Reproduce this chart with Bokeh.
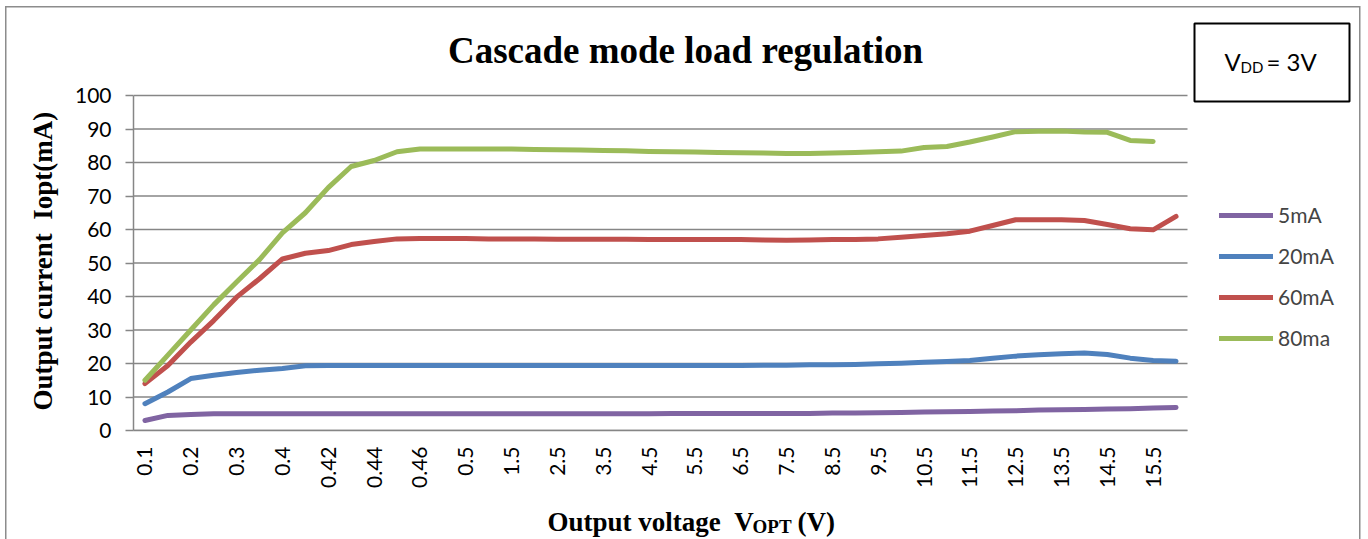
import math
import numpy as np
from bokeh.plotting import figure
from bokeh.layouts import column
from bokeh.models import Range1d, FixedTicker, Label, BoxAnnotation, Legend, LegendItem, Title
from bokeh.embed import file_html
from bokeh.resources import INLINE

categories = ["0.1", "0.15", "0.2", "0.25", "0.3", "0.35", "0.4", "0.41", "0.42", "0.43",
              "0.44", "0.45", "0.46", "0.48", "0.5", "1", "1.5", "2", "2.5", "3",
              "3.5", "4", "4.5", "5", "5.5", "6", "6.5", "7", "7.5", "8",
              "8.5", "9", "9.5", "10", "10.5", "11", "11.5", "12", "12.5", "13",
              "13.5", "14", "14.5", "15", "15.5", "16"]

series_names = ["5mA", "20mA", "60mA", "80ma"]

i_5mA = [3.0, 4.5, 4.8, 5.0, 5.0, 5.0, 5.0, 5.0, 5.0, 5.0,
         5.0, 5.0, 5.0, 5.0, 5.0, 5.0, 5.0, 5.0, 5.0, 5.0,
         5.0, 5.0, 5.0, 5.1, 5.1, 5.1, 5.1, 5.1, 5.1, 5.1,
         5.2, 5.2, 5.3, 5.4, 5.5, 5.6, 5.7, 5.8, 5.9, 6.1,
         6.2, 6.3, 6.4, 6.5, 6.7, 6.9]

i_20mA = [8.0, 11.5, 15.5, 16.5, 17.3, 18.0, 18.5, 19.3, 19.4, 19.4,
          19.4, 19.4, 19.4, 19.4, 19.4, 19.4, 19.4, 19.4, 19.4, 19.4,
          19.4, 19.4, 19.4, 19.4, 19.4, 19.4, 19.4, 19.5, 19.5, 19.6,
          19.6, 19.7, 19.9, 20.1, 20.4, 20.6, 20.9, 21.6, 22.2, 22.6,
          22.9, 23.1, 22.7, 21.6, 20.9, 20.7]

i_60mA = [14.0, 19.4, 26.4, 32.8, 39.8, 45.3, 51.2, 52.9, 53.7, 55.5,
          56.4, 57.2, 57.3, 57.3, 57.3, 57.2, 57.2, 57.2, 57.1, 57.1,
          57.1, 57.1, 57.0, 57.0, 57.0, 57.0, 57.0, 56.9, 56.8, 56.9,
          57.0, 57.0, 57.2, 57.7, 58.2, 58.7, 59.5, 61.2, 62.9, 62.9,
          62.9, 62.7, 61.5, 60.2, 59.9, 63.9]

i_80ma = [15.0, 22.5, 30.0, 37.5, 44.3, 51.0, 59.0, 65.0, 72.5, 78.8,
          80.6, 83.2, 84.0, 84.0, 84.0, 84.0, 84.0, 83.9, 83.8, 83.7,
          83.6, 83.5, 83.3, 83.2, 83.1, 83.0, 82.9, 82.8, 82.7, 82.7,
          82.8, 83.0, 83.2, 83.4, 84.5, 84.8, 86.1, 87.6, 89.2, 89.3,
          89.4, 89.1, 89.0, 86.6, 86.3, float("nan")]

y_ticks = [0, 10, 20, 30, 40, 50, 60, 70, 80, 90, 100]

colors = ["#8064A2", "#4F81BD", "#C0504D", "#9BBB59"]
SANS = "Lato"
SERIF = "Liberation Serif"
GRID = "#868686"

W = 1368
H1 = 495
H2 = 44
FRAME_LEFT = 133      # y axis position in px
FRAME_BOTTOM = 430    # x axis position in px
PLOT_RIGHT = 1187     # end of the category area in px
PLOT_TOP = 95         # y = 100 gridline in px

n = len(categories)
x = list(range(n))
px_per_cat = (PLOT_RIGHT - FRAME_LEFT) / n
px_per_unit = (FRAME_BOTTOM - PLOT_TOP) / 100.0
x_end = -0.5 + (W - FRAME_LEFT) / px_per_cat
y_end = FRAME_BOTTOM / px_per_unit

p = figure(width=W, height=H1, output_backend="svg", toolbar_location=None,
           x_range=Range1d(-0.5, x_end), y_range=Range1d(0, y_end),
           min_border_left=FRAME_LEFT, min_border_right=0, min_border_top=0,
           min_border_bottom=H1 - FRAME_BOTTOM, title=None)
p.outline_line_color = None
p.background_fill_alpha = 0
p.border_fill_alpha = 0
p.xgrid.visible = False
p.ygrid.visible = False

# horizontal gridlines across the category area only
p.segment(x0=-0.5, x1=n - 0.5, y0=y_ticks, y1=y_ticks, line_color=GRID, line_width=1.5)

# y axis
p.yaxis.bounds = (0, 100)
p.yaxis.ticker = FixedTicker(ticks=y_ticks)
p.yaxis.axis_line_color = GRID
p.yaxis.axis_line_width = 1.5
p.yaxis.major_tick_line_color = GRID
p.yaxis.major_tick_line_width = 1.5
p.yaxis.major_tick_out = 8
p.yaxis.major_tick_in = 0
p.yaxis.minor_tick_line_color = None
p.yaxis.major_label_text_font = SANS
p.yaxis.major_label_text_font_size = "21px"
p.yaxis.major_label_text_color = "black"
p.yaxis.major_label_standoff = 14

# y axis title (as a side title so it can be shifted along the axis)
p.add_layout(Title(text="Output current \u00a0Iopt(mA)", align="left", offset=20,
                   standoff=27, text_font=SERIF, text_font_style="bold",
                   text_font_size="27px", text_color="black"), "left")

# x axis
even = [i for i in x if i % 2 == 0]
p.xaxis.bounds = (-0.5, n - 0.5)
p.xaxis.ticker = FixedTicker(ticks=even)
p.xaxis.major_label_overrides = {i: categories[i] for i in even}
p.xaxis.major_label_orientation = math.pi / 2
p.xaxis.axis_line_color = GRID
p.xaxis.axis_line_width = 1.5
p.xaxis.major_tick_line_color = None
p.xaxis.minor_tick_line_color = None
p.xaxis.major_tick_out = 0
p.xaxis.major_tick_in = 0
p.xaxis.major_label_text_font = SANS
p.xaxis.major_label_text_font_size = "21px"
p.xaxis.major_label_text_color = "black"
p.xaxis.major_label_standoff = 16

renderers = []
for vals, c in zip([i_5mA, i_20mA, i_60mA, i_80ma], colors):
    r = p.line(x, np.array(vals, dtype=float), line_color=c, line_width=5,
               line_cap="round", line_join="round")
    renderers.append(r)

legend = Legend(items=[LegendItem(label=nm, renderers=[r]) for nm, r in zip(series_names, renderers)],
                location=(1086, 80), glyph_width=54, glyph_height=20, label_height=20,
                spacing=16, padding=0, margin=0, border_line_color=None,
                background_fill_alpha=0, label_text_font=SANS, label_text_font_size="21px",
                label_standoff=5)
p.add_layout(legend)

# title
p.add_layout(Label(x=552, y=380, x_units="screen", y_units="screen",
                   text="Cascade mode load regulation", text_font=SERIF,
                   text_font_style="bold", text_font_size="37px", text_align="center",
                   text_baseline="alphabetic", text_color="black"))

# VDD box
p.add_layout(BoxAnnotation(left=1061, right=1216, top=407, bottom=329,
                           left_units="screen", right_units="screen",
                           top_units="screen", bottom_units="screen",
                           fill_color="white", fill_alpha=1, line_color="black",
                           line_alpha=1, line_width=2))
p.add_layout(Label(x=1091, y=369, x_units="screen", y_units="screen", text="V",
                   text_font=SANS, text_font_size="24px", text_baseline="alphabetic",
                   text_color="black"))
p.add_layout(Label(x=1107, y=364, x_units="screen", y_units="screen", text="DD",
                   text_font=SANS, text_font_size="15px", text_baseline="alphabetic",
                   text_color="black"))
p.add_layout(Label(x=1133, y=369, x_units="screen", y_units="screen", text="= 3V",
                   text_font=SANS, text_font_size="24px", text_baseline="alphabetic",
                   text_color="black"))

# x axis title strip (with subscript); its frame is aligned with the chart frame
q = figure(width=W, height=H2, output_backend="svg", toolbar_location=None,
           x_axis_type=None, y_axis_type=None, min_border_left=0, min_border_right=0,
           min_border_top=0, min_border_bottom=0, title=None,
           x_range=Range1d(0, 1), y_range=Range1d(0, 1))
q.outline_line_color = None
q.background_fill_alpha = 0
q.border_fill_alpha = 0
q.xgrid.visible = False
q.ygrid.visible = False
q.add_layout(Label(x=414, y=18, x_units="screen", y_units="screen",
                   text="Output voltage \u00a0V", text_font=SERIF,
                   text_font_style="bold", text_font_size="27px", text_align="left",
                   text_baseline="alphabetic", text_color="black"))
q.add_layout(Label(x=619, y=13, x_units="screen", y_units="screen",
                   text="OPT", text_font=SERIF,
                   text_font_style="bold", text_font_size="19px", text_align="left",
                   text_baseline="alphabetic", text_color="black"))
q.add_layout(Label(x=664, y=18, x_units="screen", y_units="screen",
                   text="(V)", text_font=SERIF,
                   text_font_style="bold", text_font_size="27px", text_align="left",
                   text_baseline="alphabetic", text_color="black"))

line = "linear-gradient(#8c8c8c, #8c8c8c)"
layout = column(p, q, spacing=0, styles={
    "background-color": "white",
    "background-image": ", ".join([line, line, line]),
    "background-size": "1.5px 100%, 1.5px 100%, 1355px 1.5px",
    "background-position": "5px 6px, 1359px 6px, 5px 6px",
    "background-repeat": "no-repeat",
})

open("out.html", "w").write(file_html(layout, INLINE))
